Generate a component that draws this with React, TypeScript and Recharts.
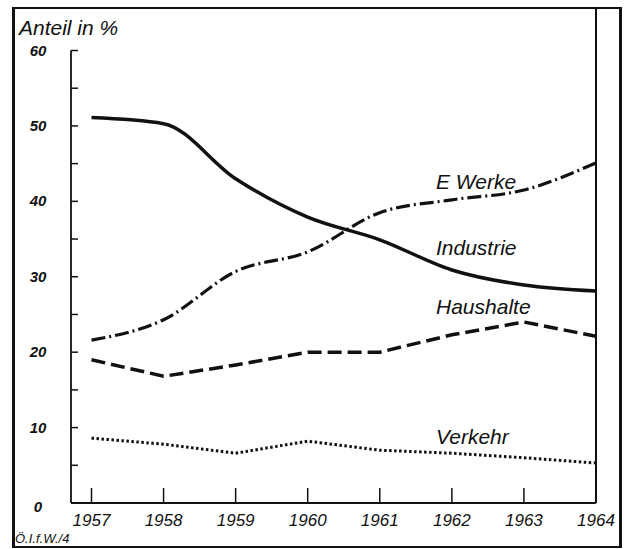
import React from 'react';
import { LineChart, Line, XAxis, YAxis } from 'recharts';

const years = [1957, 1958, 1959, 1960, 1961, 1962, 1963, 1964];
const industrie = [51.1, 50.3, 43.0, 37.9, 34.9, 30.9, 28.9, 28.1];
const eWerke = [21.6, 24.3, 30.7, 33.3, 38.5, 40.2, 41.5, 45.1];
const haushalte = [19.0, 16.8, 18.3, 20.0, 20.0, 22.3, 24.0, 22.1];
const verkehr = [8.6, 7.8, 6.6, 8.2, 7.0, 6.6, 6.0, 5.3];
const yTicks = [0, 5, 10, 15, 20, 25, 30, 35, 40, 45, 50, 55, 60];
const yTitle = 'Anteil in %';
const sourceNote = 'Ö.I.f.W./4';
const seriesNames = ['E Werke', 'Industrie', 'Haushalte', 'Verkehr'];

const data = years.map((y, i) => ({
  year: y,
  industrie: industrie[i],
  eWerke: eWerke[i],
  haushalte: haushalte[i],
  verkehr: verkehr[i],
}));

const INK = '#111';
const FONT = '"Liberation Sans Narrow", "Liberation Sans", Arial, sans-serif';

const XTick = (props: any) => {
  const { x, y, payload } = props;
  return (
    <g>
      <line x1={x} y1={y} x2={x} y2={y - 15} stroke={INK} strokeWidth={1.5} />
      <text x={x} y={y} dy={23} textAnchor="middle" fontFamily={FONT} fontStyle="italic" fontSize={17} fill={INK}>
        {payload.value}
      </text>
    </g>
  );
};

const YTick = (props: any) => {
  const { x, y, payload } = props;
  const v = payload.value;
  return (
    <g>
      <line x1={x} y1={y} x2={x + 7} y2={y} stroke={INK} strokeWidth={1.5} />
      {v % 10 === 0 && (
        <text x={38} y={y} dy={v === 0 ? 9 : 5} textAnchor="middle" fontFamily={FONT} fontStyle="italic" fontWeight="bold" fontSize={15} fill={INK}>
          {v}
        </text>
      )}
    </g>
  );
};

const labelStyle: React.CSSProperties = {
  position: 'absolute',
  fontFamily: FONT,
  fontStyle: 'italic',
  fontSize: 21,
  color: INK,
  lineHeight: '22px',
  whiteSpace: 'nowrap',
};

export default function App() {
  return (
    <div style={{ position: 'absolute', left: 0, top: 0, width: 628, height: 549, background: '#fff' }}>
      <LineChart
        width={628}
        height={549}
        data={data}
        margin={{ top: 50.5, right: 32, bottom: 16, left: 31 }}
      >
        <XAxis
          dataKey="year"
          type="number"
          domain={[1957, 1964]}
          ticks={years}
          padding={{ left: 20.5, right: 0 }}
          height={30}
          tickSize={0}
          tickMargin={0}
          tickLine={false}
          axisLine={{ stroke: INK, strokeWidth: 1.8 }}
          tick={<XTick />}
          interval={0}
        />
        <YAxis
          domain={[0, 60]}
          ticks={yTicks}
          width={40}
          tickSize={0}
          tickMargin={0}
          tickLine={false}
          axisLine={{ stroke: INK, strokeWidth: 1.8 }}
          tick={<YTick />}
          interval={0}
        />
        <Line type="monotone" dataKey="industrie" stroke={INK} strokeWidth={3.5} dot={false} isAnimationActive={false} />
        <Line type="monotone" dataKey="eWerke" stroke={INK} strokeWidth={3.2} strokeDasharray="14 4 2 4" dot={false} isAnimationActive={false} />
        <Line type="linear" dataKey="haushalte" stroke={INK} strokeWidth={3.5} strokeDasharray="14 6" dot={false} isAnimationActive={false} />
        <Line type="linear" dataKey="verkehr" stroke={INK} strokeWidth={3} strokeDasharray="2.5 2.5" dot={false} isAnimationActive={false} />
      </LineChart>
      {/* outer frame */}
      <div style={{ position: 'absolute', left: 12, top: 7, width: 604, height: 537, borderLeft: '3px solid #111', borderRight: '3px solid #111', borderTop: '2px solid #111', borderBottom: '2px solid #111' }} />
      {/* right plot boundary */}
      <div style={{ position: 'absolute', left: 595, top: 8, width: 2, height: 495, background: INK }} />
      <div style={{ ...labelStyle, left: 19, top: 17 }}>{yTitle}</div>
      <div style={{ ...labelStyle, left: 15, top: 528, fontSize: 13 }}>{sourceNote}</div>
      <div style={{ ...labelStyle, left: 436, top: 171 }}>{seriesNames[0]}</div>
      <div style={{ ...labelStyle, left: 436, top: 237 }}>{seriesNames[1]}</div>
      <div style={{ ...labelStyle, left: 436, top: 296 }}>{seriesNames[2]}</div>
      <div style={{ ...labelStyle, left: 436, top: 426 }}>{seriesNames[3]}</div>
    </div>
  );
}
